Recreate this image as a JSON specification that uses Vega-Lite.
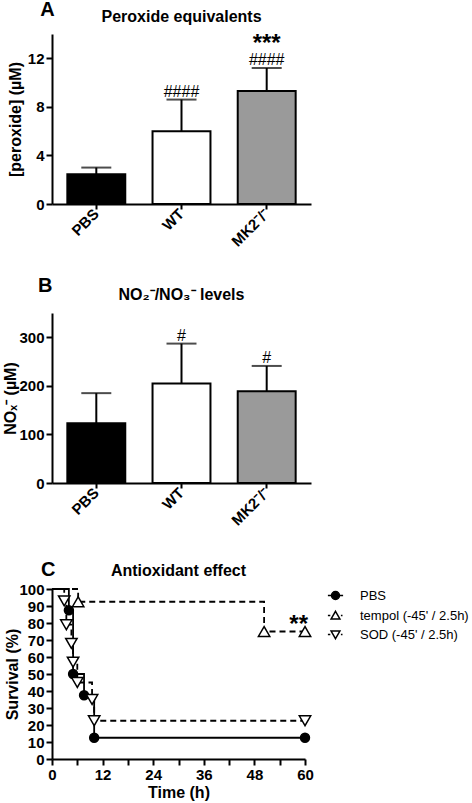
{
  "$schema": "https://vega.github.io/schema/vega-lite/v6.json",
  "background": "white",
  "padding": {"left": 2, "top": 0, "right": 0, "bottom": 2},
  "spacing": 26,
  "resolve": {"scale": {"shape": "independent", "fill": "independent", "stroke": "independent"}, "legend": {"shape": "independent", "fill": "independent", "stroke": "independent"}},
  "config": {
    "font": "Liberation Sans",
    "view": {"stroke": null},
    "axis": {
      "domainColor": "black", "domainWidth": 2, "tickColor": "black", "tickWidth": 2, "tickSize": 6,
      "labelColor": "black", "labelFont": "Liberation Sans", "labelFontWeight": "bold", "labelFontSize": 15,
      "titleFont": "Liberation Sans", "titleFontWeight": "bold", "titleFontSize": 16, "titleColor": "black",
      "grid": false, "labelPadding": 2, "labelOverlap": false
    },
    "title": {"font": "Liberation Sans", "fontWeight": "bold", "fontSize": 16, "color": "black", "baseline": "alphabetic"},
    "legend": {"labelFont": "Liberation Sans", "labelFontSize": 13, "labelColor": "black", "labelOffset": 18, "rowPadding": 5, "symbolSize": 64, "padding": 0, "symbolStrokeWidth": 1.5}
  },
  "datasets": {
    "perox": [
      {"group": "PBS", "mean": 2.45, "upper": 3.0, "hash": "", "stars": ""},
      {"group": "WT", "mean": 6.0, "upper": 8.6, "hash": "####", "stars": ""},
      {"group": "MK2⁻/⁻", "mean": 9.3, "upper": 11.2, "hash": "####", "stars": "***"}
    ],
    "nox": [
      {"group": "PBS", "mean": 123, "upper": 185, "hash": ""},
      {"group": "WT", "mean": 205, "upper": 287, "hash": "#"},
      {"group": "MK2⁻/⁻", "mean": 189, "upper": 241, "hash": "#"}
    ],
    "surv": [
      {"s": "PBS", "t": 0, "v": 100, "pt": false},
      {"s": "PBS", "t": 4, "v": 87.5, "pt": true},
      {"s": "PBS", "t": 5, "v": 50, "pt": true},
      {"s": "PBS", "t": 7.6, "v": 37.5, "pt": true},
      {"s": "PBS", "t": 10, "v": 12.5, "pt": true},
      {"s": "PBS", "t": 60, "v": 12.5, "pt": true},
      {"s": "tempol (-45' / 2.5h)", "t": 0, "v": 100, "pt": false},
      {"s": "tempol (-45' / 2.5h)", "t": 6.2, "v": 92.5, "pt": true},
      {"s": "tempol (-45' / 2.5h)", "t": 50.3, "v": 75, "pt": true},
      {"s": "tempol (-45' / 2.5h)", "t": 60, "v": 75, "pt": true},
      {"s": "SOD (-45' / 2.5h)", "t": 0, "v": 100, "pt": false},
      {"s": "SOD (-45' / 2.5h)", "t": 2.9, "v": 93, "pt": true},
      {"s": "SOD (-45' / 2.5h)", "t": 3.4, "v": 79, "pt": true},
      {"s": "SOD (-45' / 2.5h)", "t": 4.6, "v": 68, "pt": true},
      {"s": "SOD (-45' / 2.5h)", "t": 5, "v": 57, "pt": true},
      {"s": "SOD (-45' / 2.5h)", "t": 6, "v": 45, "pt": true},
      {"s": "SOD (-45' / 2.5h)", "t": 9.5, "v": 35, "pt": true},
      {"s": "SOD (-45' / 2.5h)", "t": 10, "v": 22.5, "pt": true},
      {"s": "SOD (-45' / 2.5h)", "t": 60, "v": 22.5, "pt": true}
    ],
    "survnote": [{"t": 58.5, "v": 75, "lab": "**"}]
  },
  "vconcat": [
    {
      "title": {"text": "A", "anchor": "start", "fontSize": 20, "dx": 33, "offset": -11},
      "vconcat": [
        {
          "width": 259, "height": 170,
          "title": {"text": "Peroxide equivalents", "offset": 7},
          "data": {"name": "perox"},
          "encoding": {
            "x": {"field": "group", "type": "nominal", "sort": null,
              "scale": {"paddingInner": 0.32, "paddingOuter": 0.18},
              "axis": {"title": null, "labelAngle": -45, "labelAlign": "right", "labelBaseline": "middle", "tickSize": 5, "labelPadding": 2}}
          },
          "layer": [
            {
              "mark": {"type": "bar", "stroke": "black", "strokeWidth": 2},
              "encoding": {
                "y": {"field": "mean", "type": "quantitative", "scale": {"domain": [0, 14], "nice": false},
                  "axis": {"title": "[peroxide] (µM)", "titlePadding": 4,
                    "values": [0,1,2,3,4,5,6,7,8,9,10,11,12,13,14],
                    "labelExpr": "datum.value % 2 ? '' : datum.label",
                    "tickSize": {"condition": {"test": "datum.value % 2 === 1", "value": 3}, "value": 6}}},
                "fill": {"field": "group", "type": "nominal", "sort": null, "legend": null,
                  "scale": {"domain": ["PBS", "WT", "MK2⁻/⁻"], "range": ["black", "white", "#9a9a9a"]}}
              }
            },
            {
              "mark": {"type": "rule", "color": "black", "strokeWidth": 2},
              "encoding": {"y": {"field": "mean", "type": "quantitative"}, "y2": {"field": "upper"}}
            },
            {
              "mark": {"type": "tick", "color": "black", "thickness": 2, "size": 30},
              "encoding": {"y": {"field": "upper", "type": "quantitative"}}
            },
            {
              "mark": {"type": "text", "baseline": "alphabetic", "dy": -3, "fontSize": 16, "color": "black"},
              "encoding": {"y": {"field": "upper", "type": "quantitative"}, "text": {"field": "hash"}}
            },
            {
              "mark": {"type": "text", "baseline": "alphabetic", "dy": -17, "fontSize": 24, "fontWeight": "bold", "color": "black"},
              "encoding": {"y": {"field": "upper", "type": "quantitative"}, "text": {"field": "stars"}}
            }
          ]
        }
      ]
    },
    {
      "spacing": 31,
      "resolve": {"scale": {"shape": "independent", "fill": "independent", "stroke": "independent"}, "legend": {"shape": "independent", "fill": "independent", "stroke": "independent"}},
      "vconcat": [
        {
          "title": {"text": "B", "anchor": "start", "fontSize": 20, "dx": 35, "offset": -9},
          "vconcat": [
            {
              "width": 259, "height": 170,
              "title": {"text": "NO₂⁻/NO₃⁻ levels", "offset": 10},
              "data": {"name": "nox"},
              "encoding": {
                "x": {"field": "group", "type": "nominal", "sort": null,
                  "scale": {"paddingInner": 0.32, "paddingOuter": 0.18},
                  "axis": {"title": null, "labelAngle": -45, "labelAlign": "right", "labelBaseline": "middle", "tickSize": 5, "labelPadding": 2}}
              },
              "layer": [
                {
                  "mark": {"type": "bar", "stroke": "black", "strokeWidth": 2},
                  "encoding": {
                    "y": {"field": "mean", "type": "quantitative", "scale": {"domain": [0, 350], "nice": false},
                      "axis": {"title": "NOₓ⁻ (µM)", "titlePadding": 0,
                        "values": [0,25,50,75,100,125,150,175,200,225,250,275,300,325,350],
                        "labelExpr": "datum.value % 50 ? '' : datum.label",
                        "tickSize": {"condition": {"test": "datum.value % 50 !== 0", "value": 3}, "value": 6}}},
                    "fill": {"field": "group", "type": "nominal", "sort": null, "legend": null,
                      "scale": {"domain": ["PBS", "WT", "MK2⁻/⁻"], "range": ["black", "white", "#9a9a9a"]}}
                  }
                },
                {
                  "mark": {"type": "rule", "color": "black", "strokeWidth": 2},
                  "encoding": {"y": {"field": "mean", "type": "quantitative"}, "y2": {"field": "upper"}}
                },
                {
                  "mark": {"type": "tick", "color": "black", "thickness": 2, "size": 30},
                  "encoding": {"y": {"field": "upper", "type": "quantitative"}}
                },
                {
                  "mark": {"type": "text", "baseline": "alphabetic", "dy": -3, "fontSize": 16, "color": "black"},
                  "encoding": {"y": {"field": "upper", "type": "quantitative"}, "text": {"field": "hash"}}
                }
              ]
            }
          ]
        },
        {
          "title": {"text": "C", "anchor": "start", "fontSize": 20, "dx": 36, "offset": -17},
          "resolve": {"scale": {"shape": "independent", "fill": "independent", "stroke": "independent"}, "legend": {"shape": "independent", "fill": "independent", "stroke": "independent"}},
          "vconcat": [
            {
              "width": 253, "height": 170,
              "title": {"text": "Antioxidant effect", "offset": 3},
              "encoding": {
                "x": {"field": "t", "type": "quantitative", "scale": {"domain": [0, 60], "nice": false},
                  "axis": {"title": "Time (h)", "titlePadding": 2, "labelFlush": false,
                    "values": [0,6,12,18,24,30,36,42,48,54,60],
                    "labelExpr": "datum.value % 12 ? '' : datum.label"}},
                "y": {"field": "v", "type": "quantitative", "scale": {"domain": [0, 100], "nice": false},
                  "axis": {"title": "Survival (%)", "titlePadding": -2,
                    "values": [0,10,20,30,40,50,60,70,80,90,100]}}
              },
              "layer": [
                {
                  "data": {"name": "surv"},
                  "transform": [{"filter": "datum.s === 'PBS'"}],
                  "mark": {"type": "line", "interpolate": "step-after", "color": "black", "strokeWidth": 1.8}
                },
                {
                  "data": {"name": "surv"},
                  "transform": [{"filter": "datum.s !== 'PBS'"}],
                  "mark": {"type": "line", "interpolate": "step-after", "color": "black", "strokeWidth": 1.8, "strokeDash": [6, 4]},
                  "encoding": {"detail": {"field": "s", "type": "nominal"}}
                },
                {
                  "data": {"name": "surv"},
                  "transform": [{"filter": "datum.pt"}],
                  "mark": {"type": "point", "filled": true, "stroke": "black", "strokeWidth": 1.5, "opacity": 1},
                  "encoding": {
                    "shape": {"condition": [
                        {"test": "datum.s === 'PBS'", "value": "circle"},
                        {"test": "indexof(datum.s, 'SOD') === 0", "value": "triangle-down"}
                      ], "value": "triangle-up"},
                    "fill": {"condition": {"test": "datum.s === 'PBS'", "value": "black"}, "value": "white"},
                    "size": {"condition": {"test": "datum.s === 'PBS'", "value": 80}, "value": 130}
                  }
                },
                {
                  "data": {"name": "surv"},
                  "transform": [{"filter": "datum.t < 0"}],
                  "mark": {"type": "point", "filled": true, "strokeWidth": 1.5, "opacity": 1},
                  "encoding": {
                    "shape": {"field": "s", "type": "nominal", "title": null,
                      "scale": {"domain": ["PBS", "tempol (-45' / 2.5h)", "SOD (-45' / 2.5h)"],
                        "range": ["M-1.9,0L1.9,0M1,0A1,1 0 1,1 -1,0A1,1 0 1,1 1,0Z", "M-1.9,0L-1.3,0M1.35,0L1.75,0M0,-1.05L1.1,0.85L-1.1,0.85Z", "M-1.9,0L-1.3,0M1.35,0L1.75,0M0,1.05L1.1,-0.85L-1.1,-0.85Z"]},
                      "legend": {"orient": "right", "offset": 20}},
                    "fill": {"field": "s", "type": "nominal", "title": null,
                      "scale": {"domain": ["PBS", "tempol (-45' / 2.5h)", "SOD (-45' / 2.5h)"], "range": ["black", "white", "white"]},
                      "legend": {"orient": "right", "offset": 20}},
                    "stroke": {"field": "s", "type": "nominal", "title": null,
                      "scale": {"domain": ["PBS", "tempol (-45' / 2.5h)", "SOD (-45' / 2.5h)"], "range": ["black", "black", "black"]},
                      "legend": {"orient": "right", "offset": 20}}
                  }
                },
                {
                  "data": {"name": "survnote"},
                  "mark": {"type": "text", "baseline": "alphabetic", "fontSize": 24, "fontWeight": "bold", "color": "black"},
                  "encoding": {"text": {"field": "lab"}}
                }
              ]
            }
          ]
        }
      ]
    }
  ]
}
